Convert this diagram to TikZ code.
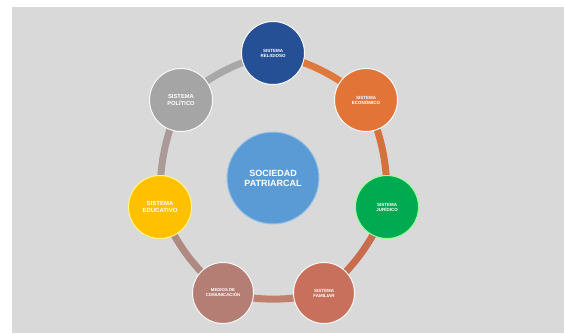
\documentclass[tikz,border=0pt]{standalone}
\usepackage{fontspec}
\setmainfont{Liberation Sans}
\usetikzlibrary{backgrounds}
\definecolor{bgc}{RGB}{217,217,217}
\definecolor{cblue}{RGB}{38,80,150}
\definecolor{corange}{RGB}{226,116,56}
\definecolor{cgreen}{RGB}{0,170,80}
\definecolor{cterra}{RGB}{200,112,92}
\definecolor{crose}{RGB}{180,126,116}
\definecolor{cyellow}{RGB}{255,192,0}
\definecolor{cgray}{RGB}{165,165,165}
\definecolor{ccenter}{RGB}{91,155,213}
\definecolor{rA}{RGB}{222,120,60}
\definecolor{rB}{RGB}{214,112,60}
\definecolor{rC}{RGB}{200,108,78}
\definecolor{rD}{RGB}{192,128,112}
\definecolor{rE}{RGB}{176,138,130}
\definecolor{rF}{RGB}{170,155,152}
\definecolor{rG}{RGB}{168,168,168}
\tikzset{
  sat/.style={circle, minimum size=63pt, inner sep=0pt, draw=white!85!bgc, line width=1pt,
    text=white, align=center, font=\bfseries\fontsize{4.5}{5}\selectfont},
  ring/.style={line width=7pt},
}
\begin{document}
\begin{tikzpicture}[x=1pt,y=-1pt]
\useasboundingbox (0,0) rectangle (564,333);
% nodes
\node[sat, fill=cblue] (rel) at (273,53) {SISTEMA\\RELIGIOSO};
\node[sat, fill=corange] (eco) at (366,100) {SISTEMA\\ECONÓMICO};
\node[sat, fill=cgreen, draw=green!40!white] (jur) at (387,207) {SISTEMA\\JURÍDICO};
\node[sat, fill=cterra, minimum size=61pt] (fam) at (324,293) {SISTEMA\\FAMILIAR};
\node[sat, fill=crose, minimum size=61pt, font=\bfseries\fontsize{4.3}{5}\selectfont] (med) at (223,293) {MEDIOS DE\\COMUNICACIÓN};
\node[sat, fill=cyellow, draw=yellow!50!white, font=\bfseries\fontsize{6}{6.5}\selectfont] (edu) at (160,207) {SISTEMA\\EDUCATIVO};
\node[sat, fill=cgray, font=\bfseries\fontsize{5.8}{6.5}\selectfont] (pol) at (181,100) {SISTEMA\\POLÍTICO};
\node[circle, minimum size=92pt, inner sep=0pt, fill=ccenter, draw=ccenter!60!white, line width=1pt,
  text=white, align=center, font=\bfseries\fontsize{9}{10}\selectfont] (soc) at (273,178) {SOCIEDAD\\PATRIARCAL};
\begin{pgfonlayer}{background}
\fill[white] (0,0) rectangle (564,333);
\fill[bgc] (12,7) rectangle (564,333);
\draw[ring, rA] (rel.center) to[bend left=12] (eco.center);
\draw[ring, rB] (eco.center) to[bend left=12] (jur.center);
\draw[ring, rC] (jur.center) to[bend left=12] (fam.center);
\draw[ring, rD] (fam.center) to[bend left=12] (med.center);
\draw[ring, rE] (med.center) to[bend left=12] (edu.center);
\draw[ring, rF] (edu.center) to[bend left=12] (pol.center);
\draw[ring, rG] (pol.center) to[bend left=12] (rel.center);
\end{pgfonlayer}
\end{tikzpicture}
\end{document}
